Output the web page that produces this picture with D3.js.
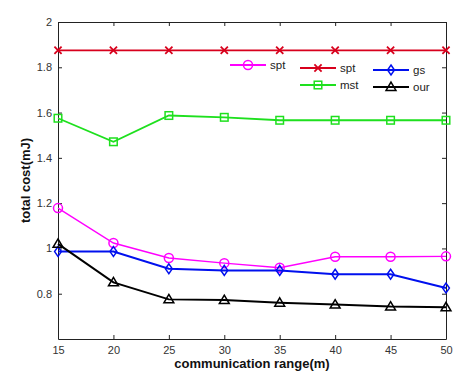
<!DOCTYPE html>
<html lang="en">
<head>
    <meta charset="UTF-8">
    <title>total cost vs communication range</title>
    <script src="https://d3js.org/d3.v7.min.js"></script>
    <style>
        body { margin: 0; background: #fff; }
        svg { display: block; font-family: "Liberation Sans", Arial, sans-serif; }
        .tick text { font-size: 11px; fill: #333; }
        .axis-title { font-size: 13px; font-weight: bold; fill: #111; }
        .legend text { font-size: 11.5px; fill: #222; }
    </style>
</head>
<body>
    <svg id="chart" width="467" height="378"></svg>

    <script>
        // data
        const ranges = [15, 20, 25, 30, 35, 40, 45, 50];
        const sptCircle = [1.178, 1.024, 0.958, 0.935, 0.915, 0.963, 0.963, 0.965];
        const sptCross = [1.875, 1.875, 1.875, 1.875, 1.875, 1.875, 1.875, 1.875];
        const mst = [1.575, 1.471, 1.587, 1.579, 1.566, 1.566, 1.566, 1.566];
        const gs = [0.986, 0.986, 0.910, 0.903, 0.903, 0.886, 0.886, 0.825];
        const our = [1.020, 0.850, 0.775, 0.772, 0.760, 0.752, 0.743, 0.740];
        const yTicks = [0.8, 1, 1.2, 1.4, 1.6, 1.8, 2];

        const svg = d3.select("#chart"),
              margin = { top: 22, right: 21, bottom: 39, left: 58 },
              width = +svg.attr("width") - margin.left - margin.right,
              height = +svg.attr("height") - margin.top - margin.bottom;

        const x = d3.scaleLinear().domain([15, 50]).range([0, width]),
              y = d3.scaleLinear().domain([0.6, 2]).range([height, 0]);

        const g = svg.append("g").attr("transform", "translate(" + margin.left + "," + margin.top + ")");

        // axes box with inward ticks (matlab style)
        function styleAxis(sel) {
            sel.select(".domain").attr("stroke", "#222");
            sel.selectAll(".tick line").attr("stroke", "#222");
        }
        g.append("g").attr("transform", "translate(0," + height + ")")
            .call(d3.axisBottom(x).tickValues(ranges).tickSizeInner(-4).tickSizeOuter(0).tickPadding(7))
            .call(styleAxis);
        g.append("g")
            .call(d3.axisTop(x).tickValues(ranges).tickSizeInner(-4).tickSizeOuter(0).tickFormat(""))
            .call(styleAxis);
        g.append("g")
            .call(d3.axisLeft(y).tickValues(yTicks).tickSizeInner(-4).tickSizeOuter(0).tickPadding(6).tickFormat(d3.format("")))
            .call(styleAxis);
        g.append("g").attr("transform", "translate(" + width + ",0)")
            .call(d3.axisRight(y).tickValues(yTicks).tickSizeInner(-4).tickSizeOuter(0).tickFormat(""))
            .call(styleAxis);
        svg.selectAll(".tick text").attr("font-family", null).attr("font-size", null);

        // marker shapes
        function marker(sel, type, color, s) {
            if (type === "circle") {
                sel.append("circle").attr("r", s * 0.5).attr("fill", "none").attr("stroke", color).attr("stroke-width", 1.5);
            } else if (type === "cross") {
                const k = s * 0.4;
                sel.append("path").attr("d", `M${-k},${-k}L${k},${k}M${-k},${k}L${k},${-k}`)
                    .attr("stroke", color).attr("stroke-width", 1.8);
            } else if (type === "square") {
                const k = s * 0.42;
                sel.append("rect").attr("x", -k).attr("y", -k).attr("width", 2 * k).attr("height", 2 * k)
                    .attr("fill", "none").attr("stroke", color).attr("stroke-width", 1.5);
            } else if (type === "diamond") {
                const kx = s * 0.38, ky = s * 0.55;
                sel.append("path").attr("d", `M0,${-ky}L${kx},0L0,${ky}L${-kx},0Z`)
                    .attr("fill", "none").attr("stroke", color).attr("stroke-width", 1.5);
            } else if (type === "triangle") {
                const k = s * 0.55;
                sel.append("path").attr("d", `M0,${-k}L${k},${k * 0.7}L${-k},${k * 0.7}Z`)
                    .attr("fill", "none").attr("stroke", color).attr("stroke-width", 1.5);
            }
        }

        const series = [
            { name: "spt", values: sptCross, color: "#d8001c", type: "cross", width: 1.8 },
            { name: "mst", values: mst, color: "#1ee01e", type: "square", width: 1.8 },
            { name: "spt", values: sptCircle, color: "#ff00ff", type: "circle", width: 1.4 },
            { name: "gs", values: gs, color: "#0010ee", type: "diamond", width: 2 },
            { name: "our", values: our, color: "#000", type: "triangle", width: 2 }
        ];

        const line = d3.line().x((d, i) => x(ranges[i])).y(d => y(d));

        series.forEach(s => {
            g.append("path").datum(s.values)
                .attr("d", line)
                .attr("fill", "none")
                .attr("stroke", s.color)
                .attr("stroke-width", s.width);
            g.selectAll(null).data(s.values).enter().append("g")
                .attr("transform", (d, i) => "translate(" + x(ranges[i]) + "," + y(d) + ")")
                .each(function () { marker(d3.select(this), s.type, s.color, 9); });
        });

        // legend
        const legendItems = [
            { s: series[2], lx: 230, ly: 65 },
            { s: series[0], lx: 300, ly: 68 },
            { s: series[1], lx: 300, ly: 85 },
            { s: series[3], lx: 373, ly: 70 },
            { s: series[4], lx: 373, ly: 87 }
        ];
        const legend = svg.append("g").attr("class", "legend");
        legendItems.forEach(it => {
            const lg = legend.append("g").attr("transform", "translate(" + it.lx + "," + it.ly + ")");
            lg.append("line").attr("x1", 0).attr("x2", 36).attr("stroke", it.s.color).attr("stroke-width", 1.8);
            lg.append("g").attr("transform", "translate(18,0)").call(m => marker(m, it.s.type, it.s.color, 9));
            lg.append("text").attr("x", 40).attr("dy", "0.35em").text(it.s.name);
        });

        // axis titles
        svg.append("text").attr("class", "axis-title")
            .attr("x", margin.left + width / 2).attr("y", 368)
            .attr("text-anchor", "middle")
            .text("communication range(m)");
        svg.append("text").attr("class", "axis-title")
            .attr("transform", "translate(30," + (margin.top + height / 2) + ") rotate(-90)")
            .attr("text-anchor", "middle")
            .text("total cost(mJ)");
    </script>
</body>
</html>
